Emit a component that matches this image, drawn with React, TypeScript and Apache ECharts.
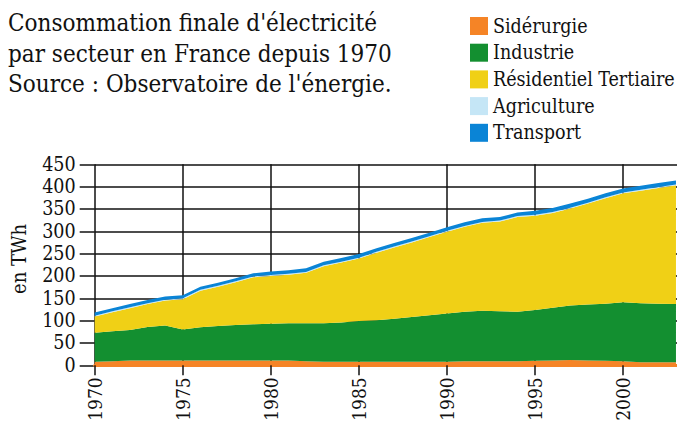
import React, { useEffect, useRef } from "react";
import * as echarts from "echarts";

const years = [
  "1970", "1971", "1972", "1973", "1974", "1975", "1976", "1977", "1978", "1979",
  "1980", "1981", "1982", "1983", "1984", "1985", "1986", "1987", "1988", "1989",
  "1990", "1991", "1992", "1993", "1994", "1995", "1996", "1997", "1998", "1999",
  "2000", "2001", "2002", "2003", "2004", "2005",
];
const siderurgie = [
  8, 9, 11, 11, 11, 11, 11, 11, 11, 11,
  11, 11, 9, 8, 8, 8, 8, 8, 8, 8,
  8, 9, 9, 9, 9, 10, 11, 12, 11, 10,
  9, 7, 7, 7,
];
const industrie = [
  65, 67, 68, 75, 78, 69, 74, 77, 79, 81,
  82, 83, 85, 86, 88, 91, 93, 96, 100, 104,
  108, 111, 113, 112, 111, 114, 118, 122, 125, 128,
  132, 132, 131, 130,
];
const residentiel = [
  36, 43, 49, 51, 56, 68, 82, 88, 96, 105,
  107, 109, 113, 128, 134, 140, 151, 160, 167, 175,
  183, 190, 197, 201, 212, 211, 212, 217, 226, 236,
  244, 252, 259, 266,
];
const agriculture = [
  2, 2, 2, 2, 2, 2, 2, 2, 2, 2,
  2, 2, 2, 2, 2, 2, 2, 2, 2, 2,
  2, 2, 2, 2, 2, 2, 2, 2, 2, 2,
  2, 2, 2, 2,
];
const transport = [
  7, 7, 7, 7, 7, 7, 7, 7, 7, 7,
  8, 8, 8, 8, 8, 8, 8, 8, 8, 8,
  8, 8, 8, 8, 8, 9, 9, 9, 9, 9,
  9, 9, 9, 9,
];
const seriesNames = ["Sidérurgie", "Industrie", "Résidentiel Tertiaire", "Agriculture", "Transport"];
const seriesColors = ["#F58426", "#138F30", "#F0D016", "#C5E6F6", "#0A84D6"];
const titleLines = [
  "Consommation finale d'électricité",
  "par secteur en France depuis 1970",
  "Source : Observatoire de l'énergie.",
];
const yAxisTitle = "en TWh";

const FONT_C = "DejaVu Serif Condensed";

export default function App() {
  const ref = useRef<HTMLDivElement>(null);
  useEffect(() => {
    if (!ref.current) return;
    const chart = echarts.init(ref.current, undefined, { renderer: "svg" });
    const allData = [siderurgie, industrie, residentiel, agriculture, transport];
    const series = allData.map((arr, i) => ({
      name: seriesNames[i],
      type: "line",
      stack: "total",
      symbol: "none",
      showSymbol: false,
      data: arr,
      lineStyle: { width: 0, color: seriesColors[i] },
      itemStyle: { color: seriesColors[i] },
      areaStyle: { color: seriesColors[i], opacity: 1 },
    }));
    chart.setOption({
      animation: false,
      backgroundColor: "#ffffff",
      title: {
        text: titleLines.join("\n"),
        left: 8,
        top: 8,
        padding: 0,
        textStyle: {
          fontFamily: FONT_C,
          fontSize: 24,
          fontWeight: "normal",
          color: "#111",
          lineHeight: 30.5,
        },
      },
      legend: {
        orient: "vertical",
        left: 470,
        top: 16,
        padding: 0,
        itemWidth: 18,
        itemHeight: 18,
        itemGap: 6.7,
        icon: "rect",
        selectedMode: false,
        data: seriesNames,
        textStyle: { fontFamily: FONT_C, fontSize: 19.5, color: "#111" },
      },
      graphic: [
        {
          type: "text",
          x: 19,
          y: 259,
          rotation: Math.PI / 2,
          style: {
            text: yAxisTitle,
            font: "20px DejaVu Serif Condensed",
            fill: "#111",
            align: "center",
            verticalAlign: "middle",
          },
        },
      ],
      grid: {
        left: 94.7,
        top: 164.3,
        width: 616.5,
        bottom: 56.7,
        containLabel: false,
        outerBoundsMode: "none",
      },
      xAxis: {
        type: "category",
        data: years,
        boundaryGap: false,
        z: 1,
        axisLine: { show: true, lineStyle: { color: "#F58426", width: 3 } },
        axisTick: { show: true, interval: 4, length: 10, lineStyle: { color: "#111", width: 1.5 } },
        axisLabel: {
          interval: 4,
          rotate: 90,
          margin: 12,
          fontFamily: FONT_C,
          fontSize: 19,
          color: "#111",
          formatter: (v: string) => (Number(v) <= 2000 ? v : ""),
        },
        splitLine: { show: true, interval: 4, lineStyle: { color: "#111", width: 1.5 } },
      },
      yAxis: {
        type: "value",
        min: 0,
        max: 450,
        interval: 50,
        axisLine: { show: false },
        axisTick: { show: true, length: 15, lineStyle: { color: "#111", width: 1.5 } },
        axisLabel: { margin: 19, fontFamily: FONT_C, fontSize: 19.5, lineHeight: 20, color: "#111" },
        splitLine: { show: true, lineStyle: { color: "#111", width: 1.5 } },
      },
      series,
    });
    return () => chart.dispose();
  }, []);
  return (
    <div
      ref={ref}
      style={{ position: "absolute", left: 0, top: 0, width: 677, height: 422 }}
    />
  );
}
